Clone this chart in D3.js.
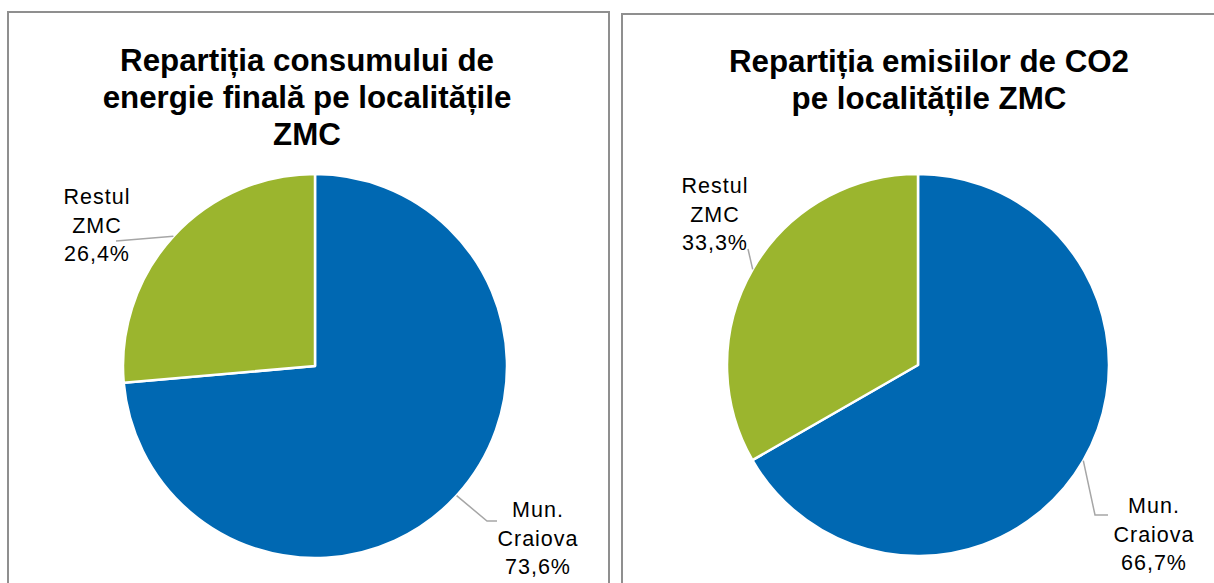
<!DOCTYPE html>
<html>
<head>
<meta charset="utf-8">
<script src="https://cdn.jsdelivr.net/npm/d3@7"></script>
<style>
html,body{margin:0;padding:0;background:#fff;}
svg{display:block;}
</style>
</head>
<body>
<svg id="chart" width="1214" height="583"></svg>
<script>
// ---- data ----
const categories = ["Mun. Craiova", "Restul ZMC"];
const labelLines = [["Mun.", "Craiova"], ["Restul", "ZMC"]];
const energyValues = [73.6, 26.4];
const co2Values = [66.7, 33.3];
const titles = [
  ["Repartiția consumului de", "energie finală pe localitățile", "ZMC"],
  ["Repartiția emisiilor de CO2", "pe localitățile ZMC"]
];
const colors = ["#0068b2", "#9bb52e"];

// ---- layout ----
const panels = [
  {
    values: energyValues, title: titles[0],
    box: {x: 8, y: 12, w: 601, h: 620},
    cx: 315, cy: 366, r: 192,
    titleX: 307, titleY: 71,
    labels: [
      {x: 538, y: 517, path: [[487, 521], [497, 521]]},
      {x: 97, y: 204, path: [[116, 241]]}
    ]
  },
  {
    values: co2Values, title: titles[1],
    box: {x: 622, y: 14, w: 640, h: 620},
    cx: 918, cy: 365, r: 191,
    titleX: 929, titleY: 72,
    labels: [
      {x: 1154, y: 513, path: [[1095, 515], [1108, 515]]},
      {x: 715, y: 193, path: [[748, 249]]}
    ]
  }
];

const svg = d3.select("#chart");
const fmt = v => d3.format(".1f")(v).replace(".", ",") + "%";

panels.forEach(p => {
  svg.append("rect")
    .attr("x", p.box.x).attr("y", p.box.y)
    .attr("width", p.box.w).attr("height", p.box.h)
    .attr("fill", "#fff").attr("stroke", "#8f8f8f").attr("stroke-width", 2);

  const t = svg.append("text")
    .attr("x", p.titleX).attr("y", p.titleY)
    .attr("text-anchor", "middle")
    .style("font-family", "'Liberation Sans', Arial, sans-serif")
    .style("font-weight", "bold")
    .style("font-size", "31.3px")
    .attr("fill", "#000");
  p.title.forEach((line, i) => {
    t.append("tspan").attr("x", p.titleX).attr("dy", i === 0 ? 0 : 37).text(line);
  });

  const pie = d3.pie().sort(null).value(d => d);
  const arcs = pie(p.values);
  const arc = d3.arc().innerRadius(0).outerRadius(p.r);
  const g = svg.append("g").attr("transform", `translate(${p.cx},${p.cy})`);
  g.selectAll("path").data(arcs).join("path")
    .attr("d", arc)
    .attr("fill", (d, i) => colors[i])
    .attr("stroke", "#fff").attr("stroke-width", 2.5)
    .attr("stroke-linejoin", "round");

  arcs.forEach((a, i) => {
    const mid = (a.startAngle + a.endAngle) / 2;
    const sx = p.cx + p.r * Math.sin(mid);
    const sy = p.cy - p.r * Math.cos(mid);
    const L = p.labels[i];
    const pts = [[sx, sy]].concat(L.path);
    svg.append("path")
      .attr("d", d3.line()(pts))
      .attr("fill", "none").attr("stroke", "#a6a6a6").attr("stroke-width", 1.5);

    const lt = svg.append("text")
      .attr("text-anchor", "middle")
      .style("font-family", "'Liberation Sans', Arial, sans-serif")
      .style("font-size", "21.5px")
      .style("letter-spacing", "1px")
      .attr("fill", "#000");
    const lines = labelLines[i].concat([fmt(p.values[i])]);
    lines.forEach((line, j) => {
      lt.append("tspan").attr("x", L.x).attr("y", L.y + j * 28.5).text(line);
    });
  });
});
</script>
</body>
</html>
